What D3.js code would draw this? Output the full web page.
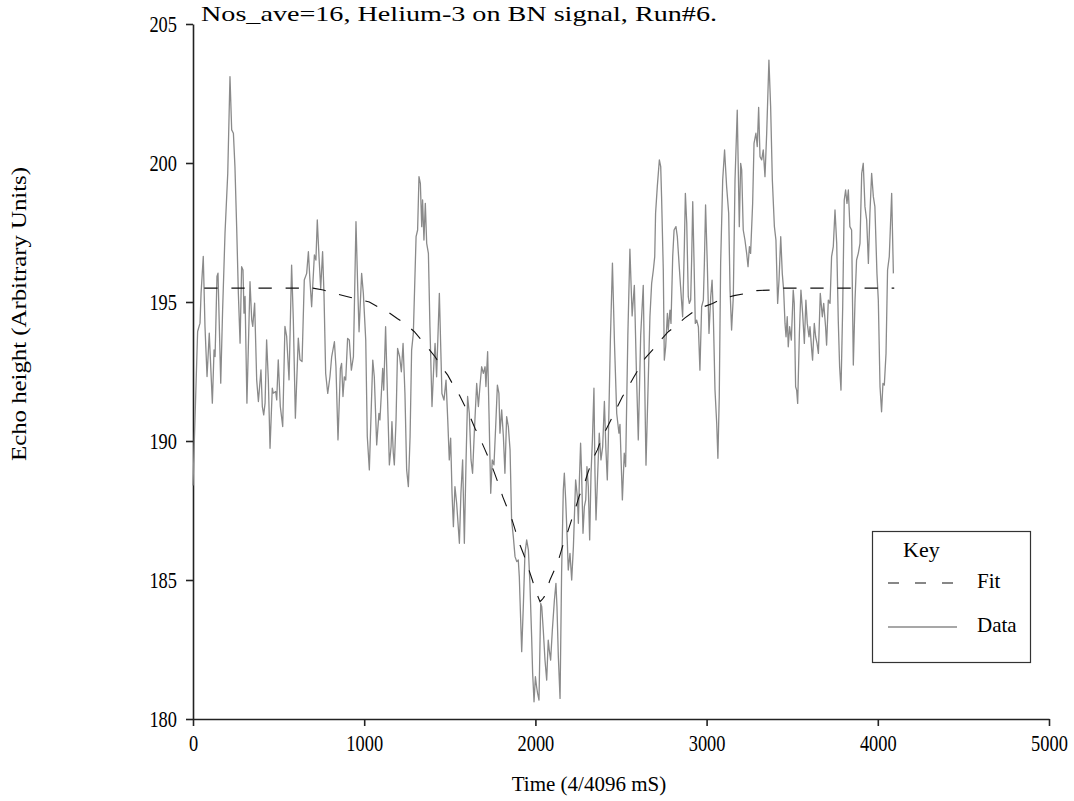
<!DOCTYPE html>
<html>
<head>
<meta charset="utf-8">
<script src="https://cdn.jsdelivr.net/npm/d3@7"></script>
<style>
  html, body { margin: 0; padding: 0; background: #fff; }
  svg { display: block; font-family: "Liberation Serif", "Times New Roman", serif; }
</style>
</head>
<body>
<svg id="chart" width="1074" height="801"></svg>
<script>
// Echo height trace (time in units of 4/4096 mS)
const dataTime = [
  0,27,41,47,60,70,82,95,113,123,129,140,146,162,173,187,203,216,226,236,245,255,265,275,284,292,298,304,315,333,343,349,360,372,382,397,405,413,421,430,440,450,463,469,483,489,498,510,524,537,547,561,576,586,598,615,625,637,650,664,674,683,
  693,709,718,726,736,746,757,765,775,787,800,810,826,835,847,861,868,876,884,892,903,913,925,937,952,962,970,985,995,1009,1018,1030,1050,1059,1073,1086,1092,1108,1114,1125,1133,1147,1157,1162,1170,1176,1186,1195,1207,1217,1227,1238,1248,1258,1268,1277,1287,1303,1312,1320,1328,1336,1341,1349,
  1357,1365,1375,1384,1396,1408,1414,1423,1439,1449,1454,1466,1478,1488,1497,1505,1513,1521,1530,1540,1556,1565,1575,1585,1595,1604,1614,1624,1633,1643,1657,1667,1676,1686,1696,1706,1711,1721,1729,1739,1748,1758,1768,1778,1787,1793,1803,1813,1822,1832,1842,1852,1861,
  1871,1881,1891,1900,1906,1914,1920,1930,1939,1949,1959,1968,1978,1984,1992,2000,2007,2013,2021,2031,
  2037,2046,2056,2066,2075,2081,2089,2099,2111,2120,2126,2134,2144,2153,2163,2169,2177,2186,2192,2202,2212,2222,2231,2235,2245,2251,2257,2264,2270,2278,2286,2294,2301,2309,2317,2325,2333,2342,2348,2354,2364,2373,2383,2393,2403,2412,2420,2426,
  2438,2450,2462,2475,2488,2494,2508,2519,2527,2540,2552,2565,2578,2590,2601,2615,2630,2638,2646,
  2669,2679,2689,2697,2702,2712,2724,2732,2737,2747,2753,2761,2771,2776,2786,2792,2802,2810,2821,2829,2839,2848,2860,2870,2876,2884,2893,2899,2907,2913,2919,2926,2934,2942,2952,2961,2971,2981,2987,2994,3004,3014,3024,3032,3039,3049,3059,3066,3074,3082,3094,3105,3117,3129,3137,3146,3156,3166,3179,3191,3199,3205,3214,3224,3234,3242,3250,3257,3269,3277,3288,3296,3304,3312,3322,3331,
  3341,3351,3364,3374,3384,3396,3405,3415,3423,3433,3442,3450,3458,3464,3471,3477,3485,3495,3506,3512,3520,3526,3532,3542,3551,3561,3571,3580,3588,3598,3604,3614,3619,3629,3637,3645,3653,3664,3676,3684,3695,3701,3711,3721,3730,3740,3750,3760,3769,3777,3785,3795,3804,3812,3820,3828,3837,3847,3857,3867,3876,3886,3896,3906,3915,3925,3935,3945,3954,3964,3974,3983,3995,4003,4013,4022,4030,4038,4048,4057,4067,4081,4091
];
const dataEcho = [
  188.4,193.94,194.24,195.3,196.64,194.12,192.32,193.88,191.36,193.28,193.04,195.92,196.04,192.08,194.72,197.47,199.63,203.11,201.19,201.07,199.87,197.71,195.3,193.52,196.27,196.15,194.6,195.2,191.36,195.73,194.36,194.12,194.96,192.2,191.42,192.56,191.24,190.94,191.36,193.64,192.2,189.74,191.9,191.72,191.78,191.48,192.92,191.24,190.52,194.12,193.76,192.2,196.33,194.36,190.82,193.7,192.92,192.86,195.79,196.03,196.81,195.79,
  194.83,196.69,196.51,197.95,196.63,195.49,196.81,195.31,192.43,191.71,192.31,193.03,193.57,192.67,190.04,192.61,192.79,191.6,192.31,192.19,193.69,193.63,192.55,193.03,197.89,195.55,193.93,196.03,195.31,193.63,190.16,188.96,192.91,192.31,189.86,190.99,190.76,192.61,191.83,194.11,192.31,189.14,189.8,190.7,189.56,189.14,190.76,193.33,193.03,192.49,193.51,191.71,188.96,188.36,190.16,193.27,193.87,197.35,197.59,199.51,199.27,197.71,198.67,197.23,
  198.55,197.11,196.75,194.11,191.24,192.91,193.51,192.31,195.31,192.91,191.71,191.47,192.19,190.76,189.32,190.1,188.12,186.92,188.36,187.76,186.32,188.12,189.32,186.32,189.32,191.6,190.99,189.32,188.84,190.28,192.07,191.24,191.96,192.67,192.43,192.67,191.96,193.21,190.99,188.12,189.32,189.14,190.52,192.01,191.71,190.28,191.12,190.16,188.84,190.88,190.52,189.68,187.16,
  186.56,185.84,185.66,185.72,185.12,183.56,182.42,184.16,185.96,186.44,186.08,184.88,182.96,181.64,180.62,181.52,181.16,180.92,180.68,184.16,
  184.04,183.2,182.12,181.4,182.84,182.48,182.12,183.2,184.28,184.88,184.04,182.24,180.74,185.24,188.24,188.84,187.88,186.44,185.36,185.96,185.0,186.2,187.88,188.6,188.0,187.04,188.6,189.92,188.84,186.68,187.64,187.88,189.08,188.36,186.44,188.84,190.04,191.9,188.84,187.16,188.84,190.28,189.32,189.8,191.42,189.68,188.6,190.04,
  193.63,196.4,193.5,190.99,190.28,190.6,187.88,189.56,189.08,193.8,196.9,194.5,195.6,192.5,190.04,193.8,195.6,192.3,189.13,
  194.47,195.67,196.15,196.63,198.19,199.15,200.11,199.87,198.79,196.15,192.91,193.39,194.59,193.99,194.71,194.23,196.63,197.59,197.71,197.35,196.39,195.55,194.47,196.99,198.91,197.83,195.19,194.95,195.07,196.63,198.61,196.63,194.23,194.35,194.11,192.55,194.83,195.07,196.39,198.49,196.39,193.87,195.19,195.79,194.59,191.84,190.64,189.38,191.6,196.39,199.39,200.47,199.15,198.19,195.43,193.99,195.19,199.39,201.9,197.71,199.99,199.75,197.59,197.23,196.75,196.27,196.99,196.75,198.55,200.71,201.07,200.59,202.0,200.23,200.11,200.47,
  199.51,201.07,203.7,202.03,199.39,197.71,197.23,194.95,195.79,197.35,196.03,195.43,194.23,193.75,194.47,193.39,194.11,193.63,195.43,194.95,191.95,191.83,191.35,193.87,195.43,194.59,193.51,195.07,194.23,193.75,194.11,193.27,192.91,194.23,193.75,193.51,193.15,195.31,194.47,194.95,194.11,193.45,195.07,194.95,196.63,196.99,198.31,197.11,194.35,192.67,191.83,194.83,198.67,199.03,198.55,199.03,197.71,197.59,192.73,195.07,196.51,196.75,197.11,199.63,199.99,198.43,197.95,196.39,198.19,199.63,198.79,198.43,196.03,195.07,191.95,191.05,192.07,192.01,193.15,196.15,196.63,198.91,196.03
];

// Fitted dip
const fitTime = [66,700,761,833,898,966,1030,1086,1137,1195,1244,1293,1326,1375,1414,1452,1488,1521,1556,1589,1618,1647,1676,1706,1735,1758,1783,1809,1836,1861,1885,1910,1933,1959,1982,2003,2027,2040,2052,2085,2111,2138,2163,2186,2208,2231,2255,2284,2309,2333,2362,2387,2416,2445,2479,2508,2543,2576,2611,2640,2693,2732,2776,2821,2870,2917,2975,3035,3098,3160,3234,3292,3376,3440,4096];
const fitEcho = [195.5,195.5,195.43,195.3,195.2,195.1,195.0,194.8,194.65,194.4,194.2,193.93,193.69,193.33,193.03,192.67,192.37,192.0,191.65,191.24,190.88,190.46,190.1,189.68,189.26,188.9,188.48,188.0,187.58,187.22,186.74,186.26,185.9,185.42,185.0,184.58,184.22,184.3,184.4,185.0,185.36,185.78,186.3,186.68,187.1,187.52,188.0,188.42,188.9,189.32,189.68,190.1,190.45,190.81,191.23,191.59,191.95,192.31,192.67,192.97,193.33,193.63,193.93,194.14,194.41,194.62,194.81,194.95,195.13,195.23,195.31,195.41,195.43,195.5,195.5];

const xTicks = [0, 1000, 2000, 3000, 4000, 5000];
const yTicks = [180, 185, 190, 195, 200, 205];

const titleText = "Nos_ave=16, Helium-3 on BN signal, Run#6.";
const xLabel = "Time (4/4096 mS)";
const yLabel = "Echo height (Arbitrary Units)";
const legendTitle = "Key";
const legendItems = ["Fit", "Data"];

const svg = d3.select("#chart");

const x = d3.scaleLinear().domain([0, 5000]).range([193, 1049]);
const y = d3.scaleLinear().domain([180, 205]).range([719, 24]);

const digitSquash = 0.8;

// Axes
const gx = svg.append("g").attr("transform", "translate(0,719)")
  .call(d3.axisBottom(x).tickValues(xTicks).tickFormat(d3.format("d")).tickSize(7).tickSizeOuter(0).tickPadding(9));
const gy = svg.append("g").attr("transform", "translate(193,0)")
  .call(d3.axisLeft(y).tickValues(yTicks).tickFormat(d3.format("d")).tickSize(7).tickSizeOuter(0).tickPadding(9));

[gx, gy].forEach(g => {
  g.select(".domain").attr("stroke", "#222").attr("stroke-width", 1.6);
  g.selectAll(".tick line").attr("stroke", "#222").attr("stroke-width", 1.6);
  g.selectAll(".tick text")
    .attr("fill", "#000")
    .style("font-family", "'Liberation Serif', serif")
    .style("font-size", "23px");
});
gx.selectAll(".tick text").attr("transform", `scale(${digitSquash},1)`);
gy.selectAll(".tick text")
  .attr("x", -16 / digitSquash)
  .attr("transform", `scale(${digitSquash},1)`);

// Data trace
const pts = dataTime.map((t, i) => [t, dataEcho[i]]);
const fitPts = fitTime.map((t, i) => [t, fitEcho[i]]);
const line = d3.line().x(d => x(d[0])).y(d => y(d[1]));

svg.append("path").datum(pts)
  .attr("d", line)
  .attr("fill", "none")
  .attr("stroke", "#8a8a8a")
  .attr("stroke-width", 1.3)
  .attr("stroke-linejoin", "round");

svg.append("path").datum(fitPts)
  .attr("d", line)
  .attr("fill", "none")
  .attr("stroke", "#111")
  .attr("stroke-width", 1.1)
  .attr("stroke-dasharray", "13.3,13.8");

// Title and axis labels
svg.append("text")
  .attr("x", 201).attr("y", 21)
  .attr("textLength", 516).attr("lengthAdjust", "spacingAndGlyphs")
  .style("font-size", "22px")
  .text(titleText);

svg.append("text")
  .attr("x", 589).attr("y", 791)
  .attr("text-anchor", "middle")
  .style("font-size", "21px")
  .text(xLabel);

svg.append("text")
  .attr("transform", "translate(26,314) rotate(-90)")
  .attr("text-anchor", "middle")
  .attr("textLength", 294).attr("lengthAdjust", "spacingAndGlyphs")
  .style("font-size", "21px")
  .text(yLabel);

// Legend
const lg = svg.append("g");
lg.append("rect")
  .attr("x", 872.5).attr("y", 531.5).attr("width", 158).attr("height", 131)
  .attr("fill", "#fff").attr("stroke", "#333").attr("stroke-width", 1.2);
lg.append("text").attr("x", 903).attr("y", 557).style("font-size", "22px").text(legendTitle);
lg.append("line")
  .attr("x1", 888).attr("x2", 957).attr("y1", 583).attr("y2", 583)
  .attr("stroke", "#111").attr("stroke-width", 1.1).attr("stroke-dasharray", "11,16");
lg.append("text").attr("x", 977).attr("y", 588).style("font-size", "21px").text(legendItems[0]);
lg.append("line")
  .attr("x1", 888).attr("x2", 957).attr("y1", 627).attr("y2", 627)
  .attr("stroke", "#8a8a8a").attr("stroke-width", 1.3);
lg.append("text").attr("x", 977).attr("y", 632).style("font-size", "21px").text(legendItems[1]);
</script>
</body>
</html>
